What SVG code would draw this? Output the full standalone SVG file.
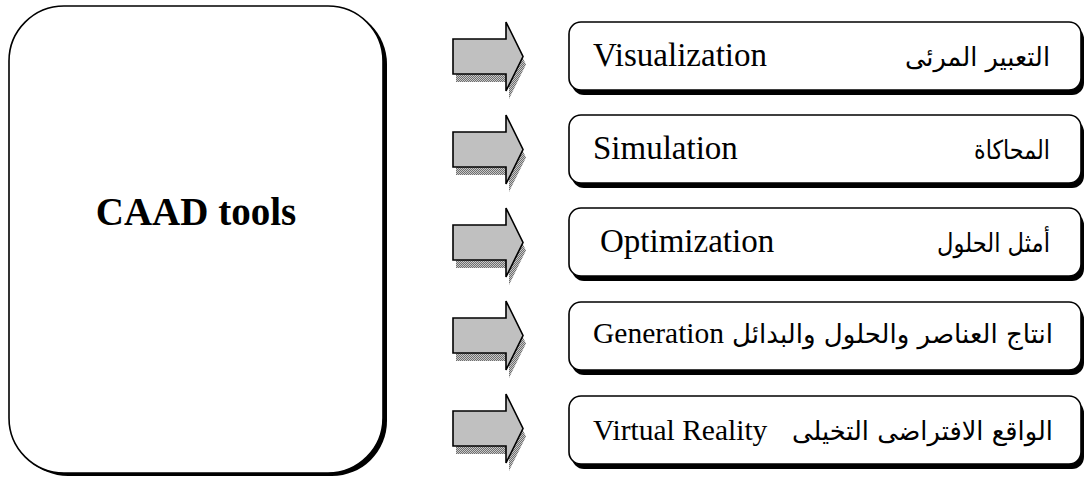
<svg xmlns="http://www.w3.org/2000/svg" width="1086" height="478" viewBox="0 0 1086 478">
  <style>
    .frame { fill: #ffffff; stroke: #000000; stroke-width: 1.6; }
    .drop { fill: #000000; stroke: none; }
    .arrow { fill: #c0c0c0; stroke: #000000; stroke-width: 1.6; stroke-linejoin: miter; }
    .arrow-shadow { fill: url(#dither); stroke: none; }
    .en { font-family: "Liberation Serif", "Times New Roman", serif; font-size: 33px; fill: #000000; }
    .en-sm { font-family: "Liberation Serif", "Times New Roman", serif; font-size: 29.5px; fill: #000000; }
    .ar { font-family: "DejaVu Sans", "Noto Sans", sans-serif; font-size: 26px; fill: #000000; }
    .title { font-family: "Liberation Serif", "Times New Roman", serif; font-size: 39px; font-weight: bold; fill: #000000; }
  </style>
  <defs>
    <!-- fine checker used for the soft arrow shadows -->
    <pattern id="dither" width="2" height="2" patternUnits="userSpaceOnUse">
      <rect width="2" height="2" fill="#c8c8c8"/>
      <rect width="1" height="1" fill="#6e6e6e"/>
      <rect x="1" y="1" width="1" height="1" fill="#6e6e6e"/>
    </pattern>
    <!-- block arrow, head top at y=0 -->
    <path id="blockArrow" d="M453,17 H506 V0 L523,34.5 L506,69 V52 H453 Z"/>
  </defs>

  <!-- main box -->
  <g id="caad-tools">
    <rect class="drop" x="13" y="9" width="374" height="467" rx="55" ry="55"/>
    <rect class="frame" x="9" y="6" width="374" height="467" rx="55" ry="55"/>
    <text class="title" x="196" y="225" text-anchor="middle">CAAD tools</text>
  </g>

  <!-- block arrows -->
  <g id="connectors">
    <g transform="translate(0,22)">
      <use href="#blockArrow" class="arrow-shadow" x="3" y="8"/>
      <use href="#blockArrow" class="arrow"/>
    </g>
    <g transform="translate(0,115)">
      <use href="#blockArrow" class="arrow-shadow" x="3" y="8"/>
      <use href="#blockArrow" class="arrow"/>
    </g>
    <g transform="translate(0,208)">
      <use href="#blockArrow" class="arrow-shadow" x="3" y="8"/>
      <use href="#blockArrow" class="arrow"/>
    </g>
    <g transform="translate(0,301)">
      <use href="#blockArrow" class="arrow-shadow" x="3" y="8"/>
      <use href="#blockArrow" class="arrow"/>
    </g>
    <g transform="translate(0,394)">
      <use href="#blockArrow" class="arrow-shadow" x="3" y="8"/>
      <use href="#blockArrow" class="arrow"/>
    </g>
  </g>

  <!-- tool boxes -->
  <g id="visualization">
    <rect class="drop" x="572" y="27" width="512" height="68" rx="12" ry="12"/>
    <rect class="frame" x="569" y="22" width="512" height="68" rx="12" ry="12"/>
    <text class="en" x="593" y="66">Visualization</text>
    <text class="ar" x="1050" y="66" text-anchor="end" textLength="145" lengthAdjust="spacingAndGlyphs">التعبير المرئى</text>
  </g>
  <g id="simulation">
    <rect class="drop" x="572" y="120" width="512" height="68" rx="12" ry="12"/>
    <rect class="frame" x="569" y="115" width="512" height="68" rx="12" ry="12"/>
    <text class="en" x="593" y="159">Simulation</text>
    <text class="ar" x="1050" y="159" text-anchor="end" textLength="76" lengthAdjust="spacingAndGlyphs">المحاكاة</text>
  </g>
  <g id="optimization">
    <rect class="drop" x="572" y="213" width="512" height="68" rx="12" ry="12"/>
    <rect class="frame" x="569" y="208" width="512" height="68" rx="12" ry="12"/>
    <text class="en" x="600" y="252">Optimization</text>
    <text class="ar" x="1050" y="252" text-anchor="end" textLength="113" lengthAdjust="spacingAndGlyphs">أمثل الحلول</text>
  </g>
  <g id="generation">
    <rect class="drop" x="572" y="307" width="512" height="68" rx="12" ry="12"/>
    <rect class="frame" x="569" y="302" width="512" height="68" rx="12" ry="12"/>
    <text class="en-sm" x="593" y="343">Generation</text>
    <text class="ar" x="1053" y="343" text-anchor="end" textLength="321" lengthAdjust="spacingAndGlyphs">انتاج العناصر والحلول والبدائل</text>
  </g>
  <g id="virtual-reality">
    <rect class="drop" x="572" y="401" width="512" height="68" rx="12" ry="12"/>
    <rect class="frame" x="569" y="396" width="512" height="68" rx="12" ry="12"/>
    <text class="en-sm" x="593" y="440">Virtual Reality</text>
    <text class="ar" x="1053" y="440" text-anchor="end" textLength="261" lengthAdjust="spacingAndGlyphs">الواقع الافتراضى التخيلى</text>
  </g>
</svg>
